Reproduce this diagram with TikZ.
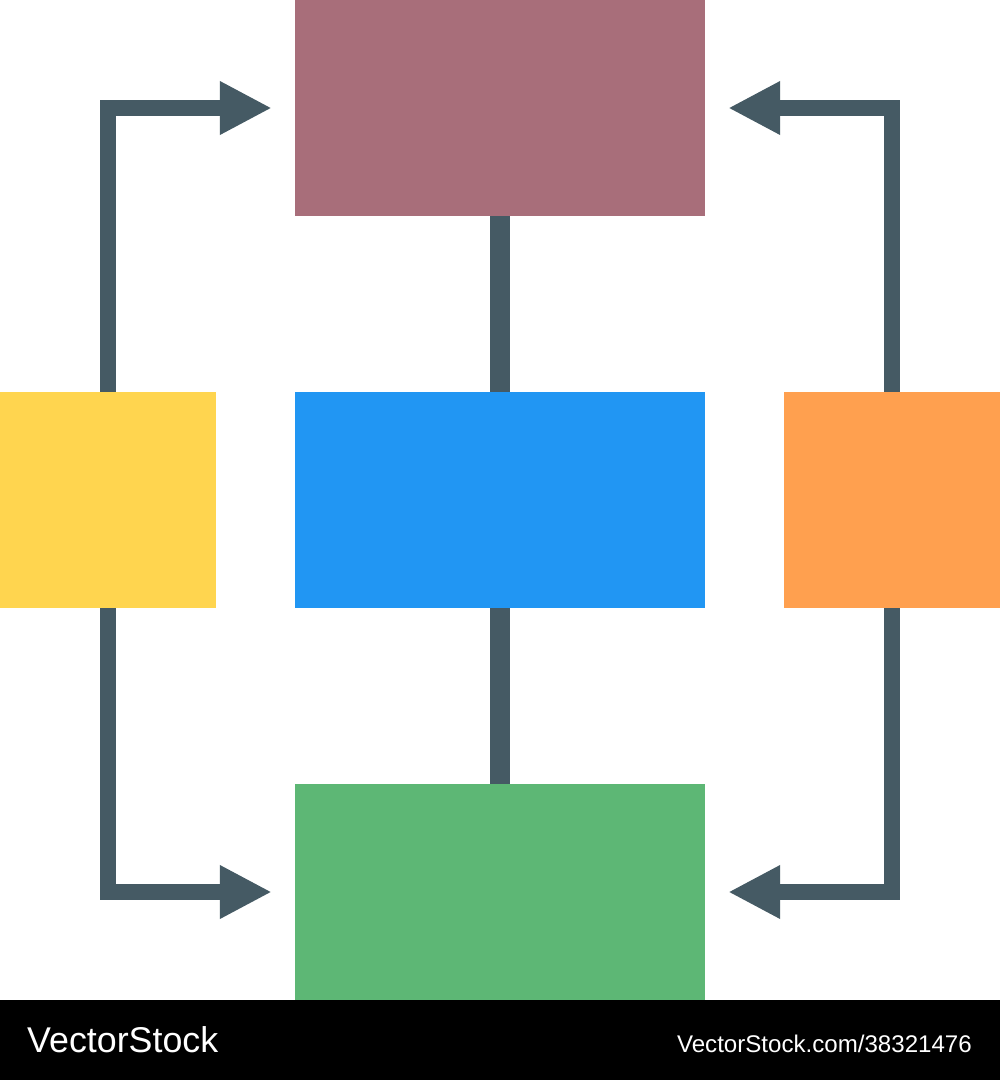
\documentclass[tikz,border=0pt]{standalone}
\usepackage{fontspec}
\setmainfont{Liberation Sans}
\usetikzlibrary{arrows.meta}
\definecolor{cTop}{HTML}{A86E7A}
\definecolor{cMid}{HTML}{2196F3}
\definecolor{cBot}{HTML}{5DB775}
\definecolor{cLeft}{HTML}{FFD54F}
\definecolor{cRight}{HTML}{FFA04F}
\definecolor{cLine}{HTML}{455A64}
\tikzset{
  wide/.style={rectangle, inner sep=0pt, minimum width=410pt, minimum height=216pt},
  square/.style={rectangle, inner sep=0pt, minimum width=216pt, minimum height=216pt},
  conn/.style={draw=cLine, line width=16pt, miter limit=10, -{Triangle[length=52pt,width=50pt]}, shorten >=23pt},
  bar/.style={draw=cLine, line width=20pt},
  foot/.style={text=white, inner sep=0pt}
}
\begin{document}
\begin{tikzpicture}[x=1pt,y=-1pt]
\useasboundingbox (0,0) rectangle (1000,1080);
\fill[white] (0,0) rectangle (1000,1080);
\node[wide, fill=cTop] (top) at (500,108) {};
\node[wide, fill=cMid] (mid) at (500,500) {};
\node[wide, fill=cBot] (bot) at (500,892) {};
\node[square, fill=cLeft] (left) at (108,500) {};
\node[square, fill=cRight] (right) at (892,500) {};
\draw[bar] (top.south) -- (mid.north);
\draw[bar] (mid.south) -- (bot.north);
\draw[conn] (left.north) |- (top.west);
\draw[conn] (right.north) |- (top.east);
\draw[conn] (left.south) |- (bot.west);
\draw[conn] (right.south) |- (bot.east);
\fill[black] (0,1000) rectangle (1000,1080);
\node[foot, anchor=base west] (brand) at (27,1052) {\fontsize{35.8}{40}\selectfont VectorStock};
\node[foot, anchor=base east] (url) at (972,1052) {\fontsize{24.1}{28}\selectfont VectorStock.com/38321476};
\end{tikzpicture}
\end{document}
